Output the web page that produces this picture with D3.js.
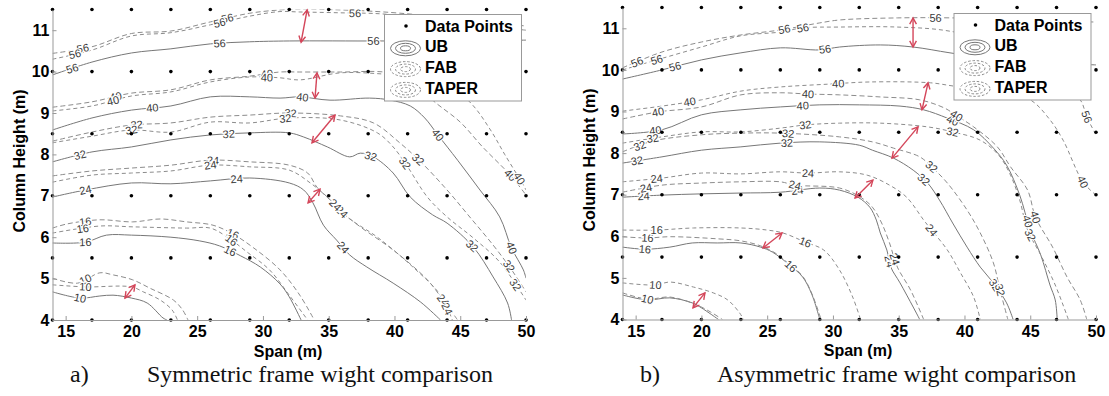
<!DOCTYPE html>
<html><head><meta charset="utf-8">
<script src="https://cdn.jsdelivr.net/npm/d3@7"></script>
<style>body{margin:0;background:#fff;} svg{display:block;}</style>
</head><body>
<svg id="c" width="1109" height="396"></svg>
<script>
// ---------- shared values ----------
const gridSpans = [14,17,20,23,26,29,32,35,38,41,44,47,50];
const gridHeights = [4,5.5,7,8.5,10,11.5];
const xTicks = [15,20,25,30,35,40,45,50];
const yTicks = [4,5,6,7,8,9,10,11];
const legendNames = ["Data Points","UB","FAB","TAPER"];
const xTitle = "Span (m)";
const yTitle = "Column Height (m)";

// ---------- a) symmetric frame: contour lines [span, height] ----------
const symUB56 = [[14,9.92],[17,10.23],[20,10.45],[23,10.55],[26,10.67],[29,10.72],[32,10.74],[39.2,10.74],[50,10.76]];
const symFAB56 = [[14,10.44],[17,10.6],[20,10.92],[23,10.98],[26,11.2],[29,11.41],[31.3,11.49],[32.8,11.51],[35.9,11.49],[39.2,11.44],[44.2,11.3],[50,11.1]];
const symTAPER56 = [[14,10.3],[17,10.52],[20,10.86],[23,10.94],[26,11.13],[29,11.34],[31.3,11.45],[32.8,11.44],[35.9,11.42],[39.2,11.39],[44.2,11.2],[50,11.0]];
const symUB40 = [[14,8.59],[17,8.88],[20,9.07],[23,9.17],[26,9.39],[29,9.39],[31.3,9.36],[32.8,9.39],[35.1,9.31],[38.1,9.36],[39.7,9.31],[41.2,9.17],[42.3,8.88],[43.3,8.47],[44.8,7.86],[46.5,7.14],[48.0,6.49],[48.9,5.74],[49.8,5.21],[50,5.01]];
const symFAB40 = [[14,9.14],[17,9.27],[20,9.48],[23,9.56],[26,9.8],[29,9.89],[31.3,9.99],[32.8,9.99],[35.9,9.99],[39.2,9.99],[41.2,9.85],[42.9,9.31],[45,8.78],[46.7,8.18],[48.8,7.5],[50,7.02]];
const symTAPER40 = [[14,9.05],[17,9.17],[20,9.41],[23,9.51],[26,9.75],[29,9.87],[31.3,9.85],[32.8,9.8],[35.9,9.97],[39.2,9.94],[43.5,9.8],[45.8,9.24],[47.3,8.59],[48.4,7.99],[49.8,7.26],[50,7.14]];
const symUB32 = [[14,7.82],[17,8.06],[20,8.18],[23,8.35],[26,8.47],[29,8.52],[32,8.52],[33.1,8.42],[34.9,8.18],[36.6,7.94],[37.4,8.03],[38.4,7.94],[39.9,7.55],[41.2,6.97],[42.9,6.54],[44,6.34],[46,5.76],[47.5,5.04],[48.6,4.41],[48.9,4.0]];
const symFAB32 = [[14,8.32],[17,8.54],[20,8.71],[23,8.76],[26,8.9],[29,8.95],[32,9.0],[35.9,8.93],[38.4,8.76],[40.4,8.28],[42,7.82],[44,7.14],[45.8,6.46],[47.5,5.81],[48.8,5.26],[50,4.68]];
const symTAPER32 = [[14,8.28],[17,8.44],[20,8.59],[23,8.54],[26,8.78],[29,8.76],[32,8.88],[35.9,8.83],[38.7,8.52],[39.9,8.18],[41,7.7],[42.5,6.97],[44,6.49],[46,5.98],[48,5.4],[50,4.48]];
const symUB24 = [[14,6.97],[16.5,7.14],[20,7.31],[23,7.29],[26,7.36],[29,7.43],[32,7.31],[33.1,7.14],[33.8,6.83],[34.6,6.29],[35.6,5.93],[36.6,5.57],[37.9,5.28],[39.9,4.89],[42,4.43],[43.5,4.0]];
const symFAB24 = [[14,7.48],[17,7.6],[20,7.67],[23,7.74],[26,7.86],[29,7.82],[32,7.74],[33.4,7.55],[34.1,7.21],[35.1,6.9],[36,6.61],[37.4,6.25],[39.9,5.69],[42.5,4.97],[43.7,4.48],[44.8,4.0]];
const symTAPER24 = [[14,7.33],[17,7.5],[20,7.55],[23,7.6],[26,7.74],[29,7.7],[32,7.62],[33.6,7.31],[34.9,6.97],[36.4,6.49],[38.7,6.0],[41.4,5.28],[43.5,4.6],[44.4,4.0]];
const symUB16 = [[14,5.86],[16.5,5.88],[18.1,6.05],[20,6.05],[23,6.0],[25.2,5.91],[26.7,5.79],[28.3,5.55],[29.8,5.28],[31.3,4.87],[32,4.56],[32.9,4.0]];
const symFAB16 = [[14,6.22],[15.1,6.32],[17.6,6.42],[20.1,6.37],[22.2,6.44],[24.2,6.37],[26.2,6.29],[27.7,6.08],[29.3,5.74],[31.3,5.21],[32.8,4.6],[33.9,4.0]];
const symTAPER16 = [[14,6.1],[17.6,6.27],[20.1,6.25],[24.2,6.22],[26,6.22],[27.3,6.0],[28.8,5.64],[30.5,5.21],[32,4.6],[33.4,4.0]];
const symUB10 = [[14,4.68],[16.1,4.53],[17.6,4.58],[18.6,4.6],[20,4.53],[21.2,4.41],[22.4,4.05],[22.7,4.0]];
const symFAB10 = [[14,5.01],[15.9,4.89],[17.6,5.14],[18.6,5.09],[20.1,4.97],[21.4,4.77],[23.2,4.48],[23.9,4.24],[24.3,4.0]];
const symTAPER10 = [[14,4.85],[16.5,4.8],[20,4.8],[20.9,4.68],[22.2,4.48],[23.1,4.24],[23.5,4.0]];
// red double arrows [span1, height1, span2, height2]
const symArrows = [[32.9,10.71,33.36,11.49],[33.96,9.36,34.11,9.97],[33.73,8.28,35.48,8.95],[33.43,6.83,34.34,7.16],[19.51,4.53,20.27,4.85]];

// ---------- b) asymmetric frame ----------
const asymUB56 = [[14,9.78],[17,10.0],[20,10.24],[23,10.41],[26,10.53],[29,10.48],[30.5,10.55],[33.6,10.6],[36.1,10.55],[38.9,10.41],[42.7,10.24],[50,10.12]];
const asymFAB56 = [[14,10.05],[17,10.43],[20,10.67],[23,10.84],[26,10.96],[29,11.13],[30.5,11.2],[34.9,11.25],[39.1,11.25],[44.2,11.2],[50,11.15]];
const asymTAPER56 = [[14,10.0],[16.6,10.24],[20,10.55],[23,10.82],[26,10.91],[27.7,11.01],[30.5,11.03],[34.9,11.03],[38.9,10.93],[44.2,10.48],[47.3,9.64],[48.8,9.28],[49.3,8.87],[50,8.44]];
const asymUB40 = [[14,8.46],[17,8.56],[20,8.92],[23,9.04],[26,9.11],[29,9.16],[32,9.16],[35.1,9.13],[36.9,9.04],[38.7,8.84],[40.7,8.56],[42.2,8.12],[43.2,7.71],[44.2,6.99],[45,6.15],[45.8,5.55],[46.5,4.83],[46.9,4.47],[47.05,4.0]];
const asymFAB40 = [[14,8.82],[16.7,8.99],[20,9.11],[23,9.4],[26,9.45],[28.1,9.42],[30.5,9.4],[33.6,9.35],[36.6,9.28],[38.5,9.08],[39.3,8.92],[40.7,8.63],[42.5,8.15],[43.5,7.67],[44.8,7.11],[45.4,6.46],[46.7,5.74],[47.8,5.02],[48.8,4.47],[49.3,4.0]];
const asymTAPER40 = [[14,9.01],[17,9.13],[20,9.28],[23,9.49],[26,9.59],[29.8,9.66],[32.8,9.71],[37.4,9.69],[39.2,9.61],[42.7,9.47],[45,9.28],[46.5,8.8],[47.5,8.31],[49,7.31],[50,6.99]];
const asymUB32 = [[14,7.76],[17,7.91],[20,8.07],[23,8.15],[26,8.24],[29,8.27],[32,8.19],[33,8.07],[34.6,7.88],[36.1,7.59],[37.2,7.28],[38.1,6.87],[39.1,6.32],[40.2,5.74],[41.2,5.26],[42.2,4.88],[43.2,4.4],[43.7,4.0]];
const asymFAB32 = [[14,8.03],[16.3,8.29],[20,8.44],[23,8.48],[26,8.48],[30.5,8.39],[33,8.27],[34.6,8.12],[36.6,7.91],[37.5,7.67],[38.7,7.28],[40.2,6.63],[41.2,6.08],[42.2,5.36],[42.7,4.71],[43.3,4.0]];
const asymTAPER32 = [[14,8.24],[17,8.39],[20,8.51],[23,8.51],[26,8.6],[28,8.68],[30.5,8.72],[33.6,8.72],[37.2,8.63],[39.1,8.51],[41.2,8.31],[42.6,7.95],[43.5,7.47],[44.2,6.87],[44.8,6.15],[45.8,5.55],[46.9,4.83],[47.9,4.0]];
const asymUB24 = [[14,6.94],[17,6.99],[20,7.02],[23,7.04],[26,7.06],[29,7.16],[30.5,7.11],[31.9,6.94],[32.8,6.7],[33.3,6.39],[33.6,6.08],[34.1,5.67],[34.4,5.26],[35.1,4.88],[36.1,4.3],[36.6,4.0]];
const asymFAB24 = [[14,7.06],[17,7.23],[20,7.28],[23,7.31],[26,7.31],[27.1,7.23],[30.5,7.16],[32.1,6.94],[33,6.7],[33.7,6.32],[34.3,5.84],[34.9,5.26],[35.9,4.71],[36.9,4.0]];
const asymTAPER24 = [[14,7.31],[17,7.4],[20,7.52],[23,7.5],[26,7.55],[28.1,7.52],[30.5,7.55],[32.6,7.47],[34.3,7.23],[35.6,6.94],[36.9,6.39],[37.5,6.15],[38.7,5.67],[39.7,5.12],[40.7,4.54],[41.2,4.0]];
const asymUB16 = [[14,5.74],[15.7,5.69],[17.6,5.74],[19.3,5.84],[21.2,5.84],[23,5.84],[24.5,5.74],[25.4,5.62],[26.7,5.31],[27.7,5.02],[28.4,4.6],[29,4.0]];
const asymFAB16 = [[14,5.99],[15.9,5.96],[17.6,5.99],[21.2,5.94],[23,5.89],[24.5,5.77],[25.6,5.6],[26.7,5.33],[27.7,5.04],[28.4,4.62],[29.1,4.0]];
const asymTAPER16 = [[14,6.15],[16.6,6.15],[19.4,6.2],[23,6.2],[25,6.15],[26.2,6.08],[27.9,5.86],[29.3,5.67],[30.5,5.19],[31.5,4.54],[32.1,4.0]];
const asymUB10 = [[14,4.59],[15.9,4.47],[17.6,4.52],[19.3,4.4],[20,4.28],[21.3,4.0]];
const asymFAB10 = [[14,4.64],[15.9,4.49],[17.6,4.54],[19.5,4.37],[20.7,4.18],[21.6,4.0]];
const asymTAPER10 = [[14,4.88],[16.5,4.83],[17.6,4.9],[19.4,4.78],[20.9,4.64],[22,4.47],[22.9,4.16],[23.2,4.0]];
const asymArrows = [[36.09,11.25,36.09,10.55],[37.23,9.69,36.77,9.04],[36.47,8.63,34.49,7.88],[33.04,7.35,31.68,6.92],[26.13,6.08,24.68,5.72],[20.27,4.64,19.36,4.28]];

// contour label spans (where each level number sits on its line)
const symLabelSpans = {
  UB56:[15.5,26.7,38.4], FAB56:[16.3,27.3], TAPER56:[15.7,26.7,37.0],
  UB40:[21.6,33.0,43.3,48.9], FAB40:[18.8,30.3,48.8], TAPER40:[18.6,30.3,49.5],
  UB32:[16.1,27.4,38.2,45.9], FAB32:[20.4,32.1,41.8,48.7], TAPER32:[20.0,31.7,40.8,49.2],
  UB24:[16.5,28.0,36.1], FAB24:[26.2,36.0,43.7], TAPER24:[26.0,35.5,44.0],
  UB16:[16.5,27.5], FAB16:[16.5,27.7], TAPER16:[16.3,27.6],
  UB10:[16.1], FAB10:[16.5], TAPER10:[16.5]
};
const asymLabelSpans = {
  UB56:[18.0,29.4], FAB56:[15.1,26.3,37.8], TAPER56:[16.6,27.7,49.3],
  UB40:[16.5,27.7,39.1,44.8], FAB40:[16.7,28.1,39.4,45.4], TAPER40:[19.1,30.4,49.0],
  UB32:[15.1,26.5,36.9,42.3], FAB32:[15.3,26.6,37.5,42.7], TAPER32:[16.3,27.9,39.1,45.0],
  UB24:[15.6,27.3,34.3], FAB24:[15.8,27.1,34.7], TAPER24:[16.6,28.1,37.5],
  UB16:[15.7,26.8], FAB16:[15.9], TAPER16:[16.6,27.9],
  UB10:[15.9], FAB10:[15.9], TAPER10:[16.5]
};

const symLines = {UB56:symUB56,FAB56:symFAB56,TAPER56:symTAPER56,UB40:symUB40,FAB40:symFAB40,TAPER40:symTAPER40,
  UB32:symUB32,FAB32:symFAB32,TAPER32:symTAPER32,UB24:symUB24,FAB24:symFAB24,TAPER24:symTAPER24,
  UB16:symUB16,FAB16:symFAB16,TAPER16:symTAPER16,UB10:symUB10,FAB10:symFAB10,TAPER10:symTAPER10};
const asymLines = {UB56:asymUB56,FAB56:asymFAB56,TAPER56:asymTAPER56,UB40:asymUB40,FAB40:asymFAB40,TAPER40:asymTAPER40,
  UB32:asymUB32,FAB32:asymFAB32,TAPER32:asymTAPER32,UB24:asymUB24,FAB24:asymFAB24,TAPER24:asymTAPER24,
  UB16:asymUB16,FAB16:asymFAB16,TAPER16:asymTAPER16,UB10:asymUB10,FAB10:asymFAB10,TAPER10:asymTAPER10};

// ---------- styles ----------
const methodStyle = {
  UB:{stroke:"#777", dash:null},
  FAB:{stroke:"#8c8c8c", dash:"5,3"},
  TAPER:{stroke:"#8c8c8c", dash:"4,3"}
};
const arrowColor = "#d4465a";
const sansBold = "'Liberation Sans', Arial, sans-serif";

const panels = [
  {key:"a", lines:symLines, labels:symLabelSpans, arrows:symArrows,
   xr:[52.5,526], yr:[320,9.5], legend:[384.5,14.5], yTitleX:25, yTitleY:161, xTitleX:288, xTitleY:357,
   tag:"a)", tagX:70, caption:"Symmetric frame wight comparison", capX:147},
  {key:"b", lines:asymLines, labels:asymLabelSpans, arrows:asymArrows,
   xr:[622.5,1096], yr:[319.5,7.5], legend:[954,13.5], yTitleX:595, yTitleY:160, xTitleX:858, xTitleY:356,
   tag:"b)", tagX:640, caption:"Asymmetric frame wight comparison", capX:717}
];

const svg = d3.select("#c");

function labelPos(P, px){
  for (let i=0;i<P.length-1;i++){
    const [x0,y0]=P[i],[x1,y1]=P[i+1];
    if ((px>=x0 && px<=x1) || (px<=x0 && px>=x1)){
      const t = x1===x0?0:(px-x0)/(x1-x0);
      let ang = Math.atan2(y1-y0, x1-x0)*180/Math.PI;
      if (ang>90) ang-=180; if (ang<-90) ang+=180;
      return [px, y0+t*(y1-y0), ang];
    }
  }
  return null;
}

panels.forEach(p=>{
  const x = d3.scaleLinear().domain([14,50]).range(p.xr);
  const y = d3.scaleLinear().domain([4,11.5]).range(p.yr);
  const g = svg.append("g");
  const clipId = "clip"+p.key;
  svg.append("clipPath").attr("id",clipId).append("rect")
    .attr("x",p.xr[0]).attr("y",p.yr[1]).attr("width",p.xr[1]-p.xr[0]).attr("height",p.yr[0]-p.yr[1]);

  const line = d3.line().x(d=>x(d[0])).y(d=>y(d[1])).curve(d3.curveCatmullRom.alpha(0.5));
  const cg = g.append("g").attr("clip-path",`url(#${clipId})`);
  const keys = Object.keys(p.lines);
  keys.forEach(k=>{
    const m = k.replace(/\d+/,"");
    const st = methodStyle[m];
    cg.append("path").attr("d",line(p.lines[k]))
      .attr("fill","none").attr("stroke",st.stroke).attr("stroke-width",1)
      .attr("stroke-dasharray",st.dash);
  });
  // contour labels
  const lg = g.append("g");
  keys.forEach(k=>{
    const lvl = k.replace(/\D+/,"");
    const P = p.lines[k].map(d=>[x(d[0]),y(d[1])]);
    (p.labels[k]||[]).forEach(s=>{
      const pos = labelPos(P, x(s));
      if(!pos) return;
      lg.append("text").attr("transform",`translate(${pos[0]},${pos[1]}) rotate(${pos[2]})`)
        .attr("text-anchor","middle").attr("dy","0.35em")
        .attr("font-family","'Liberation Sans', Arial, sans-serif").attr("font-size",11)
        .attr("fill","#3a3a3a").attr("stroke","#fff").attr("stroke-width",2.5)
        .attr("paint-order","stroke").text(lvl);
    });
  });
  // data points
  const pts = [];
  gridHeights.forEach(h=>gridSpans.forEach(s=>pts.push([s,h])));
  g.append("g").selectAll("circle").data(pts).join("circle")
    .attr("cx",d=>x(d[0])).attr("cy",d=>y(d[1])).attr("r",1.8).attr("fill","#000");
  // arrows
  const ag = g.append("g").attr("stroke",arrowColor).attr("stroke-width",1.4).attr("fill","none");
  p.arrows.forEach(a=>{
    const x1=x(a[0]),y1=y(a[1]),x2=x(a[2]),y2=y(a[3]);
    ag.append("line").attr("x1",x1).attr("y1",y1).attr("x2",x2).attr("y2",y2);
    const ang = Math.atan2(y2-y1,x2-x1), L=7, sp=0.5;
    [[x1,y1,ang],[x2,y2,ang+Math.PI]].forEach(([px,py,a0])=>{
      ag.append("path").attr("d",
        `M${px+L*Math.cos(a0+sp)},${py+L*Math.sin(a0+sp)}L${px},${py}L${px+L*Math.cos(a0-sp)},${py+L*Math.sin(a0-sp)}`);
    });
  });
  // axes
  const ax = g.append("g").attr("transform",`translate(0,${p.yr[0]})`)
    .call(d3.axisBottom(x).tickValues(xTicks).tickSizeInner(-4).tickSizeOuter(0).tickPadding(6));
  const ay = g.append("g").attr("transform",`translate(${p.xr[0]},0)`)
    .call(d3.axisLeft(y).tickValues(yTicks).tickSizeInner(-4).tickSizeOuter(0).tickPadding(3).tickFormat(d3.format("d")));
  [ax,ay].forEach(a=>{
    a.select(".domain").attr("stroke","#999");
    a.selectAll(".tick line").attr("stroke","#999");
    a.selectAll("text").attr("font-family",sansBold).attr("font-weight","bold").attr("font-size",16).attr("fill","#000");
  });
  g.append("text").attr("x",p.xTitleX).attr("y",p.xTitleY).attr("text-anchor","middle")
    .attr("font-family",sansBold).attr("font-weight","bold").attr("font-size",16).text(xTitle);
  g.append("text").attr("transform",`translate(${p.yTitleX},${p.yTitleY}) rotate(-90)`).attr("text-anchor","middle")
    .attr("font-family",sansBold).attr("font-weight","bold").attr("font-size",16).text(yTitle);
  // legend
  const [lx,ly] = p.legend;
  const L = g.append("g").attr("transform",`translate(${lx},${ly})`);
  L.append("rect").attr("width",137).attr("height",86.5).attr("fill","#fff").attr("stroke","#999").attr("stroke-width",1);
  legendNames.forEach((n,i)=>{
    const cy = 11.5 + i*20.8;
    L.append("text").attr("x",40.5).attr("y",cy+5.5).attr("font-family",sansBold).attr("font-weight","bold")
      .attr("font-size",16).attr("fill","#000").text(n);
    if(i===0){
      L.append("circle").attr("cx",21.5).attr("cy",cy).attr("r",1.8).attr("fill","#000");
    } else {
      const st = methodStyle[n];
      [[15,7.5],[10,5],[5,2.5]].forEach(([rx,ry])=>{
        L.append("ellipse").attr("cx",21).attr("cy",cy+1.5).attr("rx",rx).attr("ry",ry)
          .attr("fill","none").attr("stroke",st.stroke).attr("stroke-width",1)
          .attr("stroke-dasharray",st.dash?"2.5,1.8":null);
      });
    }
  });
  // caption
  svg.append("text").attr("x",p.tagX).attr("y",382).attr("font-family","'Liberation Serif','Times New Roman',serif")
    .attr("font-size",24).attr("fill","#111").text(p.tag);
  svg.append("text").attr("x",p.capX).attr("y",382).attr("font-family","'Liberation Serif','Times New Roman',serif")
    .attr("font-size",24).attr("fill","#111").text(p.caption);
});
</script>
</body></html>
